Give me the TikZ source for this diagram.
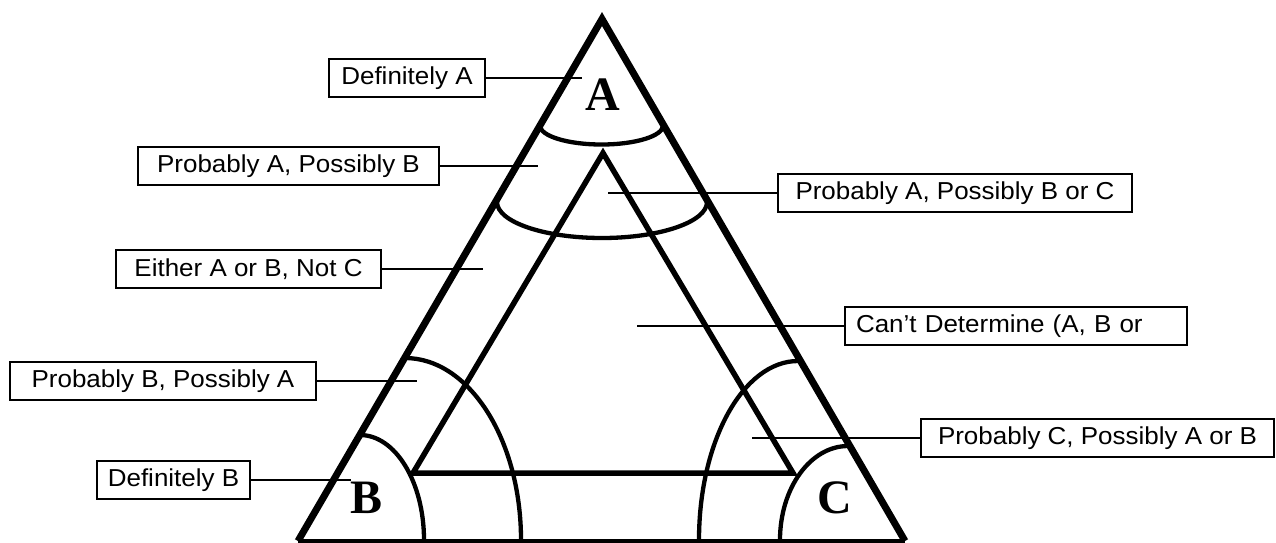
\documentclass[tikz,border=0pt]{standalone}
\usepackage{fontspec}
\setmainfont{Liberation Sans}[FakeStretch=1.06]
\newfontfamily\letterfont{Liberation Serif}
\begin{document}
\begin{tikzpicture}[x=1pt,y=-1pt]
\tikzset{
  lbl/.style={draw, line width=2.2pt, minimum height=38pt, inner sep=0pt,
              font=\fontsize{24.5}{29}\selectfont},
  conn/.style={line width=2.2pt},
  outerside/.style={line width=7pt, line join=miter},
  outerbase/.style={line width=3.5pt},
  innertri/.style={line width=5.5pt, line join=miter},
  arcline/.style={line width=4.3pt},
  corner/.style={font=\letterfont\bfseries\fontsize{48}{50}\selectfont, inner sep=0pt}
}
\useasboundingbox (0,0) rectangle (1276,542);
% triangle vertices
\coordinate (Oa) at (602,19);
\coordinate (Ob) at (298,541);
\coordinate (Oc) at (905,541);
\coordinate (Ia) at (603,153);
\coordinate (Ib) at (413,473);
\coordinate (Ic) at (793,473);
% triangles
\draw[outerbase] (Ob) -- (Oc);
\draw[outerside] (Ob) -- (Oa) -- (Oc);
\draw[innertri] (Ia) -- (Ib) -- (Ic) -- cycle;
% arcs
\draw[arcline] (540,125.5) arc[start angle=180, end angle=0, x radius=61.5, y radius=19];
\draw[arcline] (497,202) arc[start angle=180, end angle=0, x radius=105, y radius=36];
\draw[arcline] (360,435) arc[start angle=-90, end angle=0, x radius=64, y radius=105];
\draw[arcline] (405,358) arc[start angle=-90, end angle=0, x radius=116, y radius=182];
\draw[arcline] (848,446) arc[start angle=-90, end angle=-180, x radius=68, y radius=94];
\draw[arcline] (798,361) arc[start angle=-90, end angle=-180, x radius=99, y radius=179];
% corner letters
\node[corner] (la) at (603,95) {A};
\node[corner] (lb) at (367,498) {B};
\node[corner] (lc) at (835,498) {C};
% label boxes
\node[lbl, minimum width=156pt] (defA) at (407,78) {Definitely A};
\node[lbl, minimum width=301pt] (pApB) at (288.5,166) {Probably A, Possibly B};
\node[lbl, minimum width=265pt] (eith) at (248.5,269) {Either A or B, Not C};
\node[lbl, minimum width=306pt] (pBpA) at (163,381) {Probably B, Possibly A};
\node[lbl, minimum width=153pt] (defB) at (173.5,480) {Definitely B};
\node[lbl, minimum width=354pt] (pApBC) at (955,193) {Probably A, Possibly B or C};
\node[lbl, text width=320pt, inner xsep=11pt, align=left] (cant) at (1016,326) {Can’t Determine (A, B or};
\node[lbl, minimum width=353pt] (pCpAB) at (1097.5,438) {Probably C, Possibly A or B};
% connector ends
\coordinate (eA) at (582,78);
\coordinate (eAB) at (538,166);
\coordinate (eE) at (483,269);
\coordinate (eBA) at (417,381);
\coordinate (eB) at (351,480);
\coordinate (eABC) at (608,193);
\coordinate (eC) at (637,326);
\coordinate (eCAB) at (752,438);
% connectors
\draw[conn] (defA.east) -- (eA);
\draw[conn] (pApB.east) -- (eAB);
\draw[conn] (eith.east) -- (eE);
\draw[conn] (pBpA.east) -- (eBA);
\draw[conn] (defB.east) -- (eB);
\draw[conn] (pApBC.west) -- (eABC);
\draw[conn] (cant.west) -- (eC);
\draw[conn] (pCpAB.west) -- (eCAB);
\end{tikzpicture}
\end{document}
